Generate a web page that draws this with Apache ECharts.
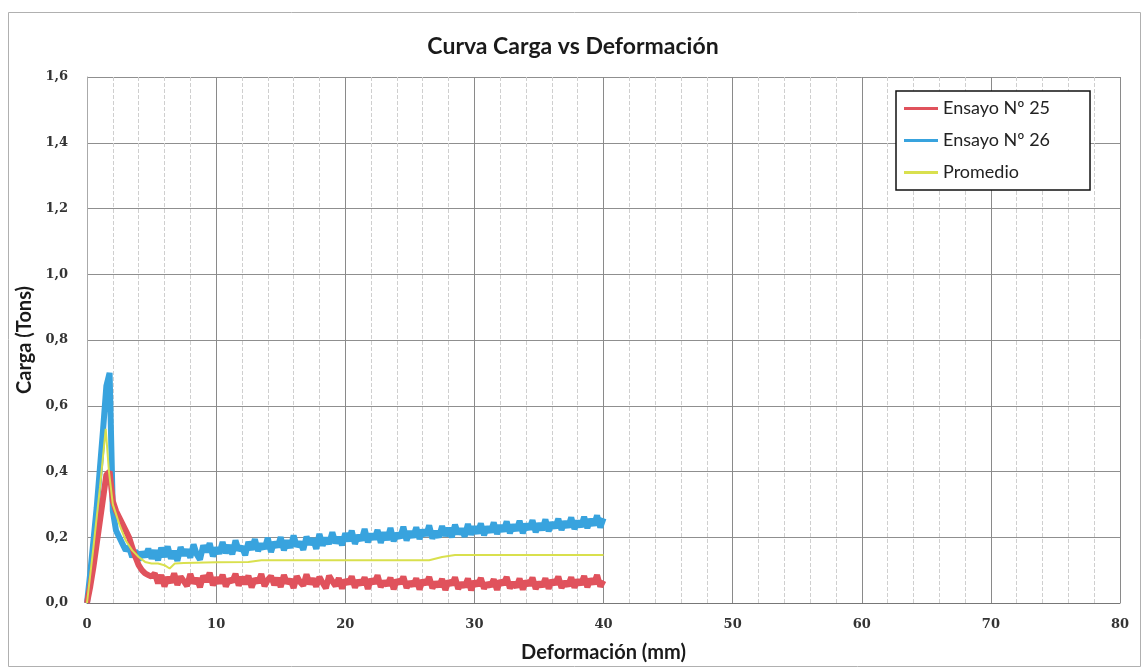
<!DOCTYPE html>
<html>
<head>
<meta charset="utf-8">
<script src="https://cdn.jsdelivr.net/npm/echarts@6/dist/echarts.min.js"></script>
<style>
html,body{margin:0;padding:0;background:#fff;}
#chart{width:1146px;height:669px;}
</style>
</head>
<body>
<div id="chart"></div>
<script>
// Deformación (mm) sample positions
const deformacion = [0,0.25,0.5,0.75,1,1.25,1.5,1.75,2,2.25,2.5,2.75,3,3.25,3.5,3.75,4,4.25,4.5,4.75,5,5.25,5.5,5.75,6,6.25,6.5,6.75,7,7.25,7.5,7.75,8,8.25,8.5,8.75,9,9.25,9.5,9.75,10,10.25,10.5,10.75,11,11.25,11.5,11.75,12,12.25,12.5,12.75,13,13.25,13.5,13.75,14,14.25,14.5,14.75,15,15.25,15.5,15.75,16,16.25,16.5,16.75,17,17.25,17.5,17.75,18,18.25,18.5,18.75,19,19.25,19.5,19.75,20,20.25,20.5,20.75,21,21.25,21.5,21.75,22,22.25,22.5,22.75,23,23.25,23.5,23.75,24,24.25,24.5,24.75,25,25.25,25.5,25.75,26,26.25,26.5,26.75,27,27.25,27.5,27.75,28,28.25,28.5,28.75,29,29.25,29.5,29.75,30,30.25,30.5,30.75,31,31.25,31.5,31.75,32,32.25,32.5,32.75,33,33.25,33.5,33.75,34,34.25,34.5,34.75,35,35.25,35.5,35.75,36,36.25,36.5,36.75,37,37.25,37.5,37.75,38,38.25,38.5,38.75,39,39.25,39.5,39.75,40];

// Ensayo Nº 25 (Tons)
const ensayo25 = [0,0.05,0.11,0.18,0.25,0.32,0.39,0.40,0.31,0.28,0.26,0.24,0.22,0.20,0.17,0.14,0.115,0.10,0.09,0.085,0.08,0.09,
0.06,0.085,0.05,0.078,0.062,0.09,0.055,0.08,0.066,0.052,
0.088,0.06,0.075,0.048,0.083,0.065,0.092,0.054,0.077,0.06,
0.086,0.05,0.072,0.064,0.089,0.053,0.079,0.058,0.083,0.047,
0.074,0.062,0.088,0.051,0.07,0.082,0.055,0.076,0.049,0.085,
0.06,0.072,0.046,0.081,0.064,0.053,0.087,0.058,0.074,0.05,
0.079,0.061,0.045,0.083,0.066,0.052,0.076,0.044,0.07,0.058,
0.081,0.047,0.068,0.056,0.078,0.043,0.072,0.06,0.084,0.049,
0.066,0.054,0.077,0.042,0.07,0.059,0.08,0.046,0.064,0.052,
0.075,0.041,0.069,0.057,0.079,0.045,0.063,0.05,0.073,0.04,
0.067,0.055,0.078,0.043,0.061,0.049,0.074,0.039,0.066,0.053,
0.076,0.044,0.06,0.051,0.072,0.04,0.068,0.056,0.079,0.045,
0.062,0.048,0.074,0.041,0.067,0.054,0.077,0.043,0.063,0.05,
0.075,0.044,0.069,0.057,0.08,0.046,0.065,0.052,0.078,0.047,
0.07,0.056,0.082,0.048,0.073,0.058,0.085,0.05,0.068];

// Ensayo Nº 26 (Tons)
const ensayo26 = [0,0.09,0.19,0.29,0.41,0.53,0.66,0.70,0.28,0.22,0.20,0.18,0.16,0.17,0.14,0.16,0.13,0.155,0.14,0.165,0.135,0.16,
0.13,0.168,0.14,0.172,0.135,0.158,0.128,0.17,0.145,0.162,
0.138,0.178,0.148,0.132,0.175,0.155,0.182,0.142,0.168,0.15,
0.185,0.152,0.176,0.148,0.19,0.16,0.172,0.145,0.186,0.162,
0.194,0.158,0.18,0.165,0.198,0.155,0.185,0.17,0.2,0.16,
0.19,0.168,0.205,0.172,0.186,0.162,0.202,0.178,0.196,0.165,
0.21,0.175,0.198,0.18,0.215,0.182,0.2,0.176,0.212,0.188,
0.22,0.18,0.206,0.19,0.225,0.185,0.21,0.194,0.222,0.183,
0.215,0.192,0.228,0.188,0.212,0.198,0.232,0.19,0.218,0.2,
0.23,0.195,0.222,0.205,0.236,0.196,0.218,0.2,0.234,0.204,
0.228,0.2,0.238,0.21,0.226,0.202,0.24,0.208,0.232,0.212,
0.242,0.206,0.232,0.215,0.245,0.21,0.236,0.218,0.248,0.212,
0.238,0.22,0.25,0.212,0.24,0.224,0.252,0.215,0.242,0.222,
0.254,0.218,0.245,0.228,0.256,0.222,0.248,0.23,0.26,0.225,
0.25,0.232,0.262,0.228,0.255,0.236,0.266,0.23,0.258];

// Promedio
const promedioX = [0,0.5,1.0,1.45,1.7,2.0,2.5,3.0,3.5,4.0,4.5,5.0,5.5,6.0,6.4,6.8,7.5,10,12.5,13.5,20,26.5,27.5,28.5,40];
const promedioY = [0,0.17,0.35,0.53,0.40,0.30,0.24,0.19,0.16,0.14,0.125,0.12,0.12,0.115,0.105,0.12,0.122,0.124,0.125,0.13,0.13,0.13,0.14,0.146,0.146];

const seriesNames = ['Ensayo Nº 25','Ensayo Nº 26','Promedio'];
const xTicks = [0,10,20,30,40,50,60,70,80];
const yTicks = [0,0.2,0.4,0.6,0.8,1.0,1.2,1.4,1.6];

const zip = (xs, ys) => xs.map((x, i) => [x, ys[i]]);

const chart = echarts.init(document.getElementById('chart'));
chart.setOption({
  backgroundColor: '#fff',
  animation: false,
  title: {
    text: 'Curva Carga vs Deformación',
    left: 'center', top: 30,
    textStyle: {fontFamily: 'Lato', fontWeight: 'bold', fontSize: 23, color: '#1a1a1a'}
  },
  graphic: [{
    type: 'rect', shape: {x: 8.5, y: 12.5, width: 1132, height: 654},
    style: {fill: 'none', stroke: '#b0b0b0', lineWidth: 1}, silent: true, z: -1
  }],
  legend: {
    orient: 'vertical', left: 896, top: 91,
    data: seriesNames,
    icon: 'rect',
    backgroundColor: '#fff', borderColor: '#111', borderWidth: 1.5,
    padding: [8, 40, 8, 8], itemGap: 13, itemWidth: 34, itemHeight: 3,
    textStyle: {fontFamily: 'Lato', fontSize: 18, color: '#222', lineHeight: 19}
  },
  grid: {left: 87, right: 26, top: 77, bottom: 66},
  xAxis: {
    type: 'value', min: xTicks[0], max: xTicks[xTicks.length-1], interval: 10,
    name: 'Deformación (mm)', nameLocation: 'middle', nameGap: 40,
    nameTextStyle: {fontFamily: 'Lato', fontWeight: 'bold', fontSize: 20, color: '#1a1a1a'},
    axisLine: {show: true, lineStyle: {color: '#777'}},
    axisTick: {show: false},
    axisLabel: {fontFamily: 'DejaVu Serif', fontWeight: 'bold', fontSize: 13, color: '#333', margin: 15},
    splitLine: {show: true, lineStyle: {color: '#8a8a8a', width: 1}},
    minorTick: {show: false, splitNumber: 5},
    minorSplitLine: {show: true, lineStyle: {color: '#cfcfcf', type: 'dashed', width: 1}}
  },
  yAxis: {
    type: 'value', min: yTicks[0], max: yTicks[yTicks.length-1], interval: 0.2,
    name: 'Carga (Tons)', nameLocation: 'middle', nameGap: 52,
    nameTextStyle: {fontFamily: 'Lato', fontWeight: 'bold', fontSize: 20, color: '#1a1a1a'},
    axisLine: {show: true, lineStyle: {color: '#aaa'}},
    axisTick: {show: false},
    axisLabel: {fontFamily: 'DejaVu Serif', fontWeight: 'bold', fontSize: 13, color: '#333', margin: 19,
      formatter: v => v.toFixed(1).replace('.', ',')},
    splitLine: {show: true, lineStyle: {color: '#8f8f8f', width: 1}}
  },
  series: [
    {name: seriesNames[0], type: 'line', symbol: 'none', data: zip(deformacion, ensayo25),
     lineStyle: {color: '#e0525c', width: 6}, itemStyle: {color: '#e0525c'}, z: 3},
    {name: seriesNames[1], type: 'line', symbol: 'none', data: zip(deformacion, ensayo26),
     lineStyle: {color: '#38a3de', width: 6}, itemStyle: {color: '#38a3de'}, z: 2},
    {name: seriesNames[2], type: 'line', symbol: 'none', data: zip(promedioX, promedioY),
     lineStyle: {color: '#d9e04e', width: 2}, itemStyle: {color: '#d9e04e'}, z: 4}
  ]
});
</script>
</body>
</html>
